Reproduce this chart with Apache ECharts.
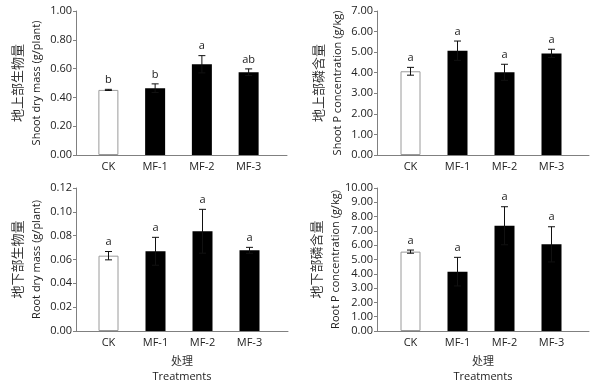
<!DOCTYPE html>
<html><head><meta charset="utf-8">
<script src="https://cdn.jsdelivr.net/npm/echarts@6/dist/echarts.min.js"></script>
<style>html,body{margin:0;padding:0;background:#fff}#c{width:600px;height:385px}</style>
</head><body><div id="c"></div>
<script>
// ---- data ----
const categories = ['CK', 'MF-1', 'MF-2', 'MF-3'];

const shootMass    = [0.452, 0.464, 0.630, 0.575];
const shootMassErr = [0.004, 0.030, 0.060, 0.023];
const shootMassSig = ['b', 'b', 'a', 'ab'];

const shootP    = [4.07, 5.07, 4.02, 4.94];
const shootPErr = [0.19, 0.47, 0.39, 0.20];
const shootPSig = ['a', 'a', 'a', 'a'];

const rootMass    = [0.0632, 0.0669, 0.0837, 0.0677];
const rootMassErr = [0.0035, 0.0117, 0.0184, 0.0025];
const rootMassSig = ['a', 'a', 'a', 'a'];

const rootP    = [5.55, 4.15, 7.36, 6.06];
const rootPErr = [0.11, 1.00, 1.33, 1.23];
const rootPSig = ['a', 'a', 'a', 'a'];

const shootMassAxis = [0, 1.0, 0.2];
const shootPAxis    = [0, 7, 1];
const rootMassAxis  = [0, 0.12, 0.02];
const rootPAxis     = [0, 10, 1];

const shootMassName = ['地上部生物量', 'Shoot dry mass (g/plant)'];
const shootPName    = ['地上部磷含量', 'Shoot P concentration (g/kg)'];
const rootMassName  = ['地下部生物量', 'Root dry mass (g/plant)'];
const rootPName     = ['地下部磷含量', 'Root P concentration (g/kg)'];
const xName = ['处理', 'Treatments'];

// ---- layout ----
const FONT = '"Open Sans", "Noto Sans CJK SC", sans-serif';
const ZH = '"Noto Sans CJK SC", sans-serif';
const AXIS_COLOR = '#808080';
const TEXT_COLOR = '#222';

const panels = [
  {vals: shootMass, err: shootMassErr, sig: shootMassSig, ax: shootMassAxis, name: shootMassName,
   left: 76, top: 11, w: 211, h: 144, bl: 85, bw: 187, xname: false},
  {vals: shootP, err: shootPErr, sig: shootPSig, ax: shootPAxis, name: shootPName,
   left: 377, top: 11, w: 212, h: 144, bl: 387, bw: 188, xname: false},
  {vals: rootMass, err: rootMassErr, sig: rootMassSig, ax: rootMassAxis, name: rootMassName,
   left: 76, top: 188, w: 212, h: 143, bl: 85, bw: 188, xname: true},
  {vals: rootP, err: rootPErr, sig: rootPSig, ax: rootPAxis, name: rootPName,
   left: 377, top: 188, w: 212, h: 143, bl: 387, bw: 188, xname: true}
];

const grid = [], xAxis = [], yAxis = [], series = [];
panels.forEach((p, i) => {
  const ga = 2 * i, gb = 2 * i + 1;
  grid.push({left: p.left, top: p.top, width: p.w, height: p.h});
  grid.push({left: p.bl, top: p.top, width: p.bw, height: p.h});
  xAxis.push({
    gridIndex: ga, type: 'value', min: 0, max: 1,
    axisLine: {show: true, lineStyle: {color: AXIS_COLOR, width: 1}},
    axisTick: {show: false}, axisLabel: {show: false}, splitLine: {show: false},
    name: p.xname ? '{zh|' + xName[0] + '}\n{en|' + xName[1] + '}' : '',
    nameLocation: 'middle', nameGap: 22,
    nameTextStyle: {rich: {
      zh: {fontFamily: ZH, fontSize: 11, color: '#333', lineHeight: 16},
      en: {fontFamily: FONT, fontSize: 11, color: TEXT_COLOR, lineHeight: 16}
    }}
  });
  xAxis.push({
    gridIndex: gb, type: 'category', data: categories,
    axisLine: {show: false}, axisTick: {show: false},
    axisLabel: {fontFamily: FONT, fontSize: 11, color: TEXT_COLOR, margin: 6}
  });
  yAxis.push({
    gridIndex: ga, type: 'value', min: p.ax[0], max: p.ax[1], interval: p.ax[2],
    axisLine: {show: true, lineStyle: {color: AXIS_COLOR, width: 1}},
    axisTick: {show: true, inside: false, length: 3, lineStyle: {color: AXIS_COLOR}},
    axisLabel: {fontFamily: FONT, fontSize: 11, color: TEXT_COLOR, margin: 4,
      formatter: v => v.toFixed(2)},
    splitLine: {show: false},
    name: '{zh|' + p.name[0] + '}\n{en|' + p.name[1] + '}',
    nameLocation: 'middle', nameRotate: 90, nameGap: 30,
    nameTextStyle: {rich: {
      zh: {fontFamily: ZH, fontSize: 13, color: '#333', lineHeight: 19},
      en: {fontFamily: FONT, fontSize: 11, color: TEXT_COLOR, lineHeight: 19}
    }}
  });
  yAxis.push({gridIndex: gb, type: 'value', min: p.ax[0], max: p.ax[1], show: false});

  series.push({
    type: 'bar', xAxisIndex: gb, yAxisIndex: gb, barWidth: 20,
    data: p.vals.map((v, k) => ({
      value: v,
      itemStyle: k === 0
        ? {color: '#ffffff', borderColor: '#9a9a9a', borderWidth: 1}
        : {color: '#000000'}
    })),
    silent: true, animation: false
  });
  const sig = p.sig;
  series.push({
    type: 'custom', xAxisIndex: gb, yAxisIndex: gb, z: 5, animation: false, silent: true,
    data: p.vals.map((v, k) => [k, v, p.err[k]]),
    encode: {x: 0, y: 1},
    renderItem: (params, api) => {
      const k = api.value(0), v = api.value(1), e = api.value(2);
      const t = api.coord([k, v + e]);
      const b = api.coord([k, v - e]);
      const cw = 3.5;
      const ls = {stroke: '#111', lineWidth: 1};
      return {
        type: 'group',
        children: [
          {type: 'line', shape: {x1: t[0], y1: t[1], x2: b[0], y2: b[1]}, style: ls},
          {type: 'line', shape: {x1: t[0] - cw, y1: t[1], x2: t[0] + cw, y2: t[1]}, style: ls},
          {type: 'line', shape: {x1: b[0] - cw, y1: b[1], x2: b[0] + cw, y2: b[1]}, style: ls},
          {type: 'text', style: {text: sig[k], x: t[0], y: t[1] - 4, align: 'center',
            verticalAlign: 'bottom', font: '11px ' + FONT, fill: TEXT_COLOR}}
        ]
      };
    }
  });
});

const chart = echarts.init(document.getElementById('c'), null, {renderer: 'canvas'});
chart.setOption({animation: false, backgroundColor: '#fff', grid, xAxis, yAxis, series});
</script>
</body></html>
